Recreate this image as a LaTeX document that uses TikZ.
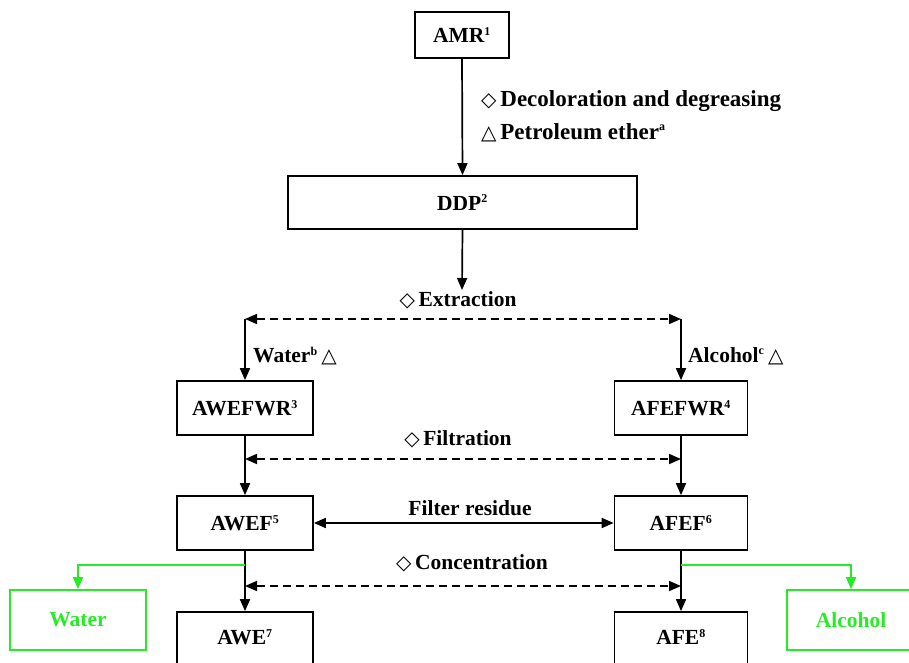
\documentclass[tikz,border=0pt]{standalone}
\usepackage{fontspec}
\setmainfont{Liberation Serif}
\newfontfamily\symf{DejaVu Sans}
\usetikzlibrary{arrows.meta}
\definecolor{grn}{RGB}{40,235,40}
\newcommand{\dia}{{\symf\fontsize{20}{22}\selectfont ◇}}
\newcommand{\tri}{{\symf\fontsize{20}{22}\selectfont △}}
\newcommand{\sps}[1]{\textsuperscript{\fontsize{12}{12}\selectfont #1}}
\begin{document}
\begin{tikzpicture}[x=1pt,y=-1pt,
  every node/.style={font=\fontsize{21.5}{24}\selectfont\bfseries, inner sep=0pt},
  box/.style={draw, line width=1.7pt, minimum width=136pt, minimum height=54pt},
  gbox/.style={draw=grn, line width=1.7pt, text=grn, minimum width=136pt, minimum height=60pt},
  arr/.style={line width=1.7pt, -{Triangle[length=12pt,width=10pt]}},
  darr/.style={line width=1.7pt, dash pattern=on 8pt off 5pt, {Triangle[length=12pt,width=10pt]}-{Triangle[length=12pt,width=10pt]}},
  sarr/.style={line width=1.7pt, {Triangle[length=12pt,width=10pt]}-{Triangle[length=12pt,width=10pt]}},
  garr/.style={draw=grn, line width=1.7pt, -{Triangle[length=12pt,width=10pt]}},
  lbl/.style={anchor=west}
]
\useasboundingbox (0,0) rectangle (909,663);
\clip (0,0) rectangle (909,663);
\fill[white] (0,0) rectangle (909,663);

% boxes
\node[box, minimum width=94pt, minimum height=46pt] (amr) at (462,35) {AMR\sps{1}};
\node[box, minimum width=349pt, minimum height=53pt] (ddp) at (462.5,202.5) {DDP\sps{2}};
\node[box] (awefwr) at (245,408) {AWEFWR\sps{3}};
\node[box, minimum width=133pt] (afefwr) at (681,408) {AFEFWR\sps{4}};
\node[box] (awef) at (245,523) {AWEF\sps{5}};
\node[box, minimum width=133pt] (afef) at (681,523) {AFEF\sps{6}};
\node[box, minimum height=60pt] (awe) at (245,642) {};
\node at (245,637) {AWE\sps{7}};
\node[box, minimum width=133pt, minimum height=60pt] (afe) at (681,642) {};
\node at (681,637) {AFE\sps{8}};
\node[gbox] (water) at (78,620) {Water};
\node[gbox, minimum width=128pt] (alcohol) at (851,620) {Alcohol};

% labels
\node[lbl, font=\fontsize{23}{25}\selectfont\bfseries] (l1) at (481,101) {\dia\,Decoloration and degreasing};
\node[lbl, font=\fontsize{23}{25}\selectfont\bfseries] (l2) at (481,133) {\tri\,Petroleum ether\sps{a}};
\node (l3) at (458,300) {\dia\,Extraction};
\node[lbl] (l4) at (253,356) {Water\sps{b}\,\tri};
\node[lbl] (l5) at (688,356) {Alcohol\sps{c}\,\tri};
\node (l6) at (458,439) {\dia\,Filtration};
\node (l7) at (470,508) {Filter residue};
\node (l8) at (472,563) {\dia\,Concentration};

% coordinates
\coordinate (dtip) at (462,290);
\coordinate (e1) at (245,319);
\coordinate (e2) at (681,319);
\coordinate (f1) at (245,459);
\coordinate (f2) at (681,459);
\coordinate (c1) at (245,586);
\coordinate (c2) at (681,586);
\coordinate (g1) at (245,565);
\coordinate (g2) at (681,565);

% connectors
\draw[arr] (amr.south) -- (ddp.north);
\draw[arr] (ddp.south) -- (dtip);
\draw[darr] (e1) -- (e2);
\draw[arr] (e1) -- (awefwr.north);
\draw[arr] (e2) -- (afefwr.north);
\draw[arr] (awefwr.south) -- (awef.north);
\draw[arr] (afefwr.south) -- (afef.north);
\draw[darr] (f1) -- (f2);
\draw[sarr] (awef.east) -- (afef.west);
\draw[arr] (awef.south) -- (awe.north);
\draw[arr] (afef.south) -- (afe.north);
\draw[darr] (c1) -- (c2);
\draw[garr] (g1) -| (water.north);
\draw[garr] (g2) -| (alcohol.north);
\end{tikzpicture}
\end{document}
